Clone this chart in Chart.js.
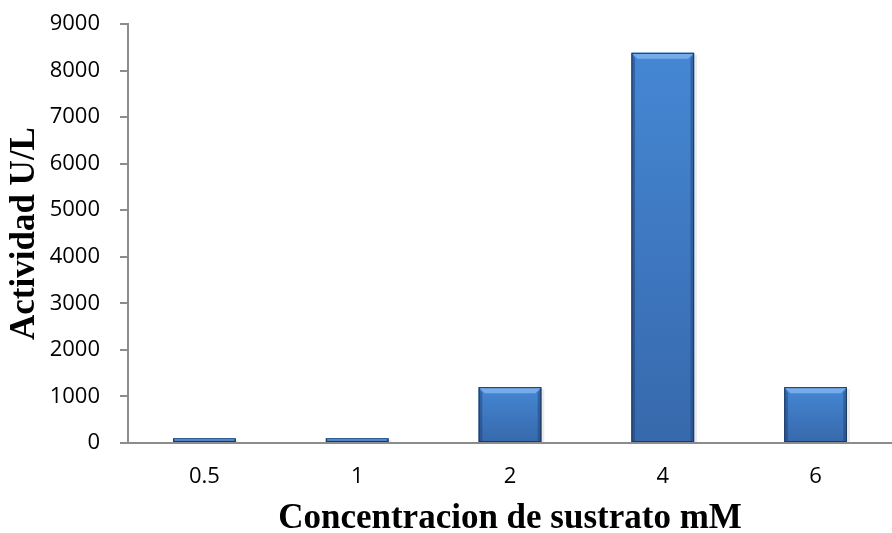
<!DOCTYPE html>
<html>
<head>
<meta charset="utf-8">
<script src="https://cdn.jsdelivr.net/npm/chart.js@4/dist/chart.umd.min.js"></script>
<style>
  html, body { margin: 0; padding: 0; background: #ffffff; }
  #wrap { width: 892px; height: 533px; }
</style>
</head>
<body>
<div id="wrap"><canvas id="c" width="892" height="533"></canvas></div>
<script>
// Substrate concentration (mM) and enzyme activity (U/L)
const categories = ['0.5', '1', '2', '4', '6'];
const actividad = [100, 100, 1200, 8380, 1200];
const yTicks = [0, 1000, 2000, 3000, 4000, 5000, 6000, 7000, 8000, 9000];

const xTitle = 'Concentracion de sustrato mM';
const yTitle = 'Actividad U/L';

const axisGrey = '#8c8c8c';
const tickFont = { family: "'Open Sans', 'Liberation Sans', sans-serif", size: 22 };
const titleFont = { family: "'Liberation Serif', 'Times New Roman', serif", size: 35, weight: 'bold' };

// Bevelled, shaded bar faces drawn over each bar element
const bevelPlugin = {
  id: 'bevel',
  afterDatasetsDraw(chart) {
    const ctx = chart.ctx;
    chart.getDatasetMeta(0).data.forEach(bar => {
      const left = bar.x - bar.width / 2;
      const right = bar.x + bar.width / 2;
      const top = bar.y;
      const bottom = bar.base;
      const h = bottom - top;
      const b = Math.min(6, h / 2);
      ctx.save();
      // soft shadow at the right side
      ctx.fillStyle = 'rgba(0,0,0,0.08)';
      ctx.fillRect(right, top + 2, 3, h - 2);
      // vertical shading: lighter top, darker base
      const gv = ctx.createLinearGradient(0, top, 0, bottom);
      gv.addColorStop(0, '#4587d4');
      gv.addColorStop(1, '#3769ac');
      ctx.fillStyle = gv;
      ctx.fillRect(left, top, right - left, h);
      // top bevel
      ctx.fillStyle = '#76aceb';
      ctx.beginPath();
      ctx.moveTo(left, top);
      ctx.lineTo(right, top);
      ctx.lineTo(right - b, top + b);
      ctx.lineTo(left + b, top + b);
      ctx.closePath();
      ctx.fill();
      // side bevels
      ctx.fillStyle = 'rgba(30,60,110,0.45)';
      ctx.beginPath();
      ctx.moveTo(left, top);
      ctx.lineTo(left + b * 0.6, top + b);
      ctx.lineTo(left + b * 0.6, bottom);
      ctx.lineTo(left, bottom);
      ctx.closePath();
      ctx.fill();
      ctx.beginPath();
      ctx.moveTo(right, top);
      ctx.lineTo(right - b * 0.6, top + b);
      ctx.lineTo(right - b * 0.6, bottom);
      ctx.lineTo(right, bottom);
      ctx.closePath();
      ctx.fill();
      // outline
      ctx.strokeStyle = '#1d3a62';
      ctx.lineWidth = 1;
      ctx.strokeRect(left + 0.5, top + 0.5, right - left - 1, h - 1);
      ctx.restore();
    });
  }
};

new Chart(document.getElementById('c'), {
  type: 'bar',
  data: {
    labels: categories,
    datasets: [{
      data: actividad,
      backgroundColor: '#3b74bf',
      borderWidth: 0,
      barPercentage: 0.41,
      categoryPercentage: 1.0
    }]
  },
  options: {
    responsive: false,
    animation: false,
    devicePixelRatio: 1,
    layout: { padding: { left: 4, right: -10, top: 24, bottom: -7 } },
    plugins: {
      legend: { display: false },
      tooltip: { enabled: false }
    },
    scales: {
      x: {
        grid: { display: false, drawTicks: false },
        border: { color: axisGrey, width: 2 },
        ticks: { color: '#000', font: tickFont, padding: 21 },
        title: { display: true, text: xTitle, color: '#000', font: titleFont, padding: { top: 4, bottom: 0 } },
        afterFit(scale) {
          scale.height = 97;
          scale.paddingLeft = 0;
          scale.paddingRight = 0;
        }
      },
      y: {
        min: 0,
        max: 9000,
        afterBuildTicks(scale) { scale.ticks = yTicks.map(v => ({ value: v })); },
        grid: { drawOnChartArea: false, drawTicks: true, tickLength: 8, color: axisGrey, lineWidth: 2 },
        border: { color: axisGrey, width: 2 },
        ticks: { color: '#000', font: tickFont, padding: 20, callback: v => String(v) },
        title: { display: true, text: yTitle, color: '#000', font: titleFont, padding: { top: 0, bottom: 4 } },
        afterFit(scale) {
          scale.width = 124;
          scale.paddingTop = 0;
          scale.paddingBottom = 0;
        }
      }
    }
  },
  plugins: [bevelPlugin]
});
</script>
</body>
</html>
